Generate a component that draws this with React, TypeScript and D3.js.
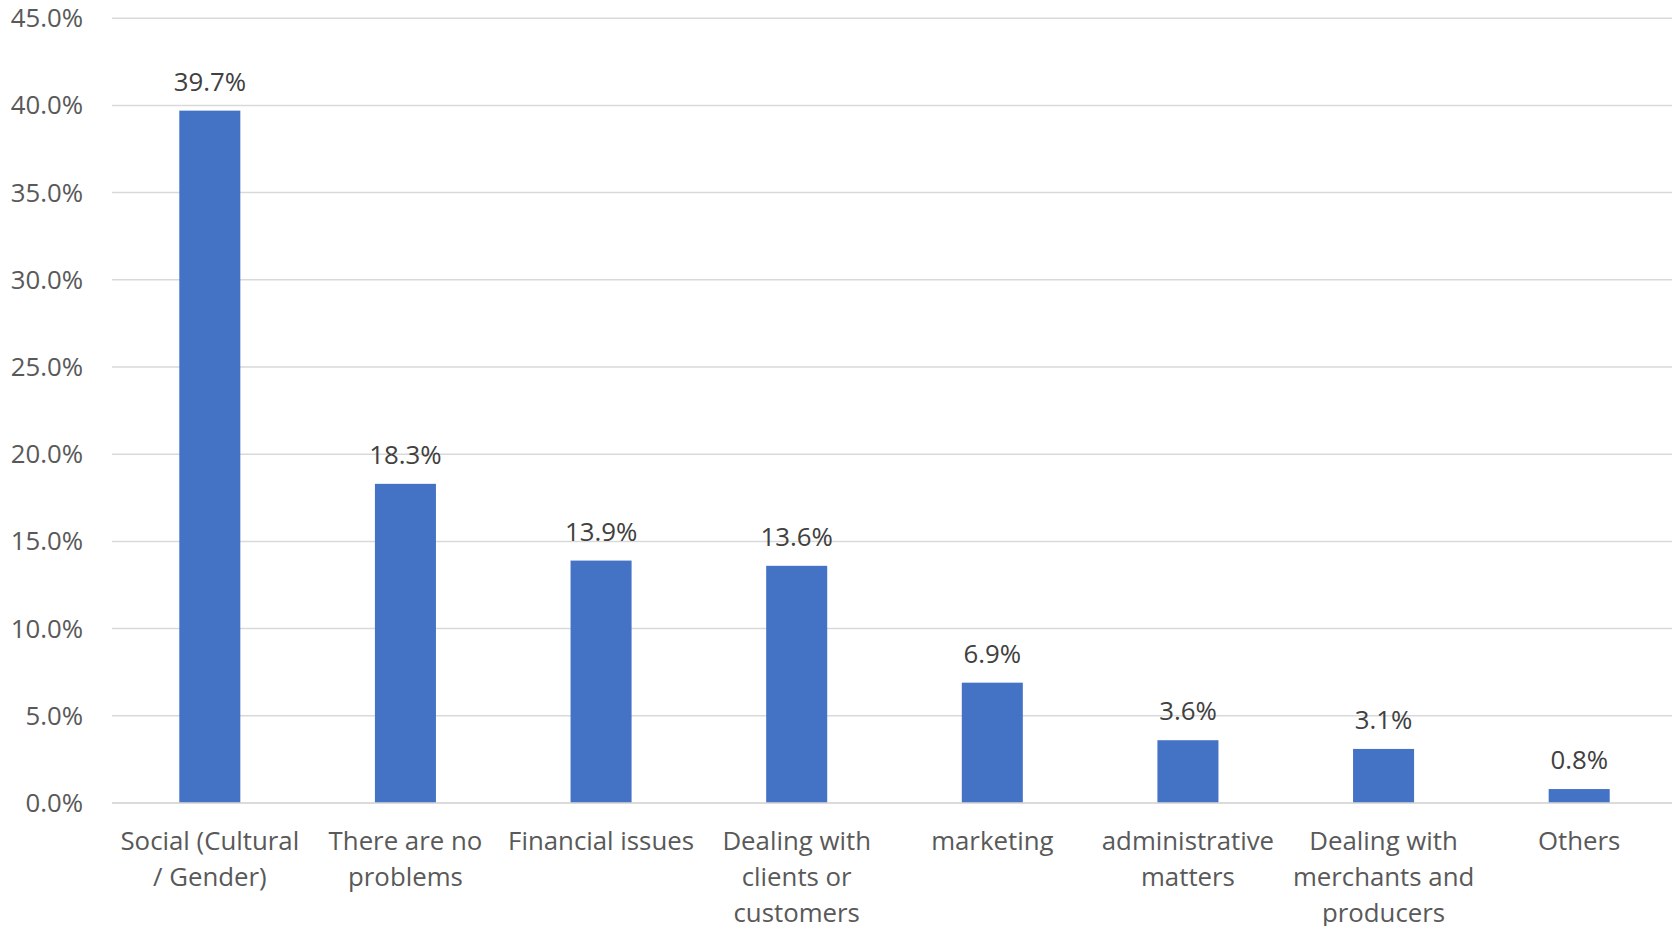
import React from "react";
import * as d3 from "d3";

const categories = [
  "Social (Cultural\n/ Gender)",
  "There are no\nproblems",
  "Financial issues",
  "Dealing with\nclients or\ncustomers",
  "marketing",
  "administrative\nmatters",
  "Dealing with\nmerchants and\nproducers",
  "Others",
];
const values = [39.7, 18.3, 13.9, 13.6, 6.9, 3.6, 3.1, 0.8];
const yTicks = [0, 5, 10, 15, 20, 25, 30, 35, 40, 45];

const W = 1672;
const H = 926;
const FONT = "'Open Sans', sans-serif";
const FS = 25.8;

export default function App() {
  const x = d3
    .scaleBand<string>()
    .domain(categories)
    .range([112, 1677])
    .paddingInner(0.688)
    .paddingOuter(0.344);
  const y = d3.scaleLinear().domain([0, 45]).range([803, 18.2]);

  return (
    <svg
      width={W}
      height={H}
      style={{ position: "absolute", left: 0, top: 0, background: "#fff" }}
      fontFamily={FONT}
    >
      {yTicks.map((t) => (
        <g key={t}>
          <line x1={112} x2={W} y1={y(t)} y2={y(t)} stroke="#d9d9d9" strokeWidth={1.5} />
          <text x={83} y={y(t) + 9} textAnchor="end" fontSize={FS} fill="#595959">
            {t.toFixed(1) + "%"}
          </text>
        </g>
      ))}
      {categories.map((c, i) => {
        const bx = x(c)!;
        const bw = x.bandwidth();
        const cx = bx + bw / 2;
        return (
          <g key={c}>
            <rect x={bx} y={y(values[i])} width={bw} height={y(0) - y(values[i])} fill="#4472C4" />
            <text x={cx} y={y(values[i]) - 20} textAnchor="middle" fontSize={FS} fill="#404040">
              {values[i].toFixed(1) + "%"}
            </text>
            <text x={cx} y={850} textAnchor="middle" fontSize={FS} fill="#595959">
              {c.split("\n").map((ln, j) => (
                <tspan key={j} x={cx} y={850 + j * 36}>
                  {ln}
                </tspan>
              ))}
            </text>
          </g>
        );
      })}
      <line x1={112} x2={W} y1={y(0)} y2={y(0)} stroke="#d9d9d9" strokeWidth={1.5} />
    </svg>
  );
}
